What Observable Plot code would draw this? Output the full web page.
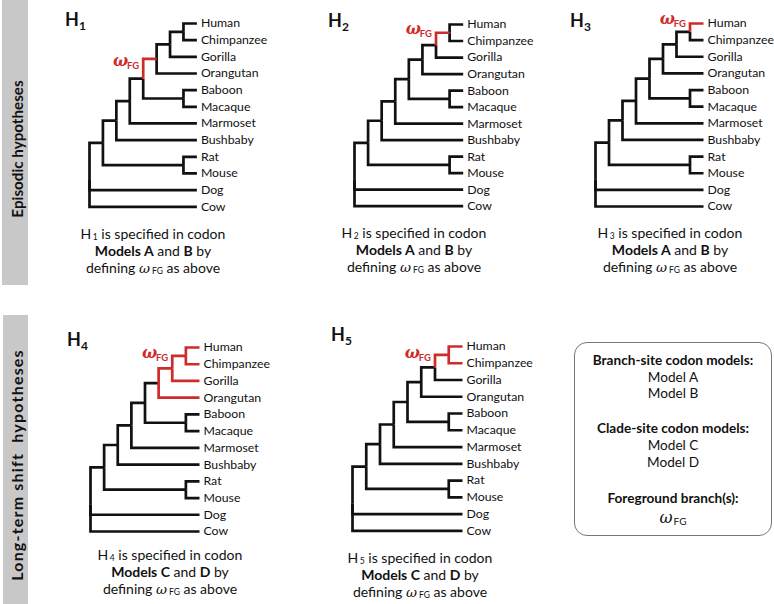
<!DOCTYPE html>
<html><head><meta charset="utf-8">
<script src="https://cdn.jsdelivr.net/npm/d3@7"></script>
<script src="https://cdn.jsdelivr.net/npm/@observablehq/plot@0.6"></script>
<style>
body{margin:0;background:#fff;}
#fig{position:relative;width:774px;height:604px;font-family:Lato,"Open Sans",sans-serif;color:#111;overflow:hidden;background:#fff}
.bar{position:absolute;background:#c8c8c8}
.bar span{position:absolute;white-space:pre;font-weight:bold;line-height:1.2;transform:translate(-50%,-50%) rotate(-90deg);color:#111}
.title{position:absolute;font-weight:bold;font-size:18px;line-height:21.6px;white-space:nowrap}
.title sub{font-size:12px;vertical-align:baseline;position:relative;top:4px;line-height:0}
.cap{position:absolute;text-align:center;font-size:14px;line-height:17px;white-space:nowrap;transform:translateX(-50%)}
.cap sub{font-size:8.5px;vertical-align:baseline;position:relative;top:1px;line-height:0;padding-left:1.5px}
.cap i{font-family:"DejaVu Serif",serif;font-size:13.5px;padding-right:0.5px}
.box{position:absolute;border:1.2px solid #777;border-radius:13px;box-sizing:border-box}
.bl{position:absolute;white-space:nowrap;font-size:13.6px;line-height:16.3px;transform:translateX(-50%)}
.bl sub{font-size:10px;vertical-align:baseline;position:relative;top:2px;line-height:0;padding-left:1px}
svg{position:absolute}
</style></head>
<body><div id="fig"></div>
<script>
// ---------- data ----------
const species = ["Human","Chimpanzee","Gorilla","Orangutan","Baboon","Macaque","Marmoset","Bushbaby","Rat","Mouse","Dog","Cow"];
// topology (nested lists, leaves in the order above)
const tree = [[[[[[[["Human","Chimpanzee"],"Gorilla"],"Orangutan"],["Baboon","Macaque"]],"Marmoset"],"Bushbaby"],["Rat","Mouse"]],"Dog","Cow"];
const hypNames = ["H1","H2","H3","H4","H5"];
const hypSub = ["1","2","3","4","5"];
const hypModels = [["A","B"],["A","B"],["A","B"],["C","D"],["C","D"]];
// foreground (ωFG) branches of each hypothesis: the clade each branch leads to
const foreground = [
  ["Human|Chimpanzee|Gorilla|Orangutan"],
  ["Human|Chimpanzee"],
  ["Human"],
  ["Human|Chimpanzee|Gorilla","Orangutan","Human|Chimpanzee","Gorilla","Human","Chimpanzee"],
  ["Human|Chimpanzee","Human","Chimpanzee"]
];
// branch next to which the ωFG label sits
const omegaBranch = ["Human|Chimpanzee|Gorilla|Orangutan","Human|Chimpanzee","Human","Human|Chimpanzee","Human|Chimpanzee"];
const rowLabels = ["Episodic hypotheses","Long-term shift  hypotheses"];
const legendHeads = ["Branch-site codon models:","Clade-site codon models:","Foreground branch(s):"];
const legendItems = [["Model A","Model B"],["Model C","Model D"]];

// ---------- layout (pixels) ----------
const RED = "#cf2b2b";
const panels = [
  {rootX:89.3, leafX:196.7, topY:22.7, botY:206,   titleX:65,  titleB:27,  capX:153, capB:239, omDy:2},
  {rootX:354,  leafX:462.7, topY:24,   botY:205.7, titleX:328, titleB:28,  capX:414, capB:238, omDy:-4},
  {rootX:595,  leafX:703,   topY:22.7, botY:205.7, titleX:570, titleB:28,  capX:670, capB:238, omDy:-4.5},
  {rootX:90,   leafX:199,   topY:346.7,botY:530.7, titleX:67,  titleB:347, capX:170, capB:560, omDy:-3},
  {rootX:352.3,leafX:462.3, topY:345.7,botY:530,   titleX:331, titleB:342, capX:420, capB:563, omDy:-2}
];

const fig = document.getElementById("fig");

// row bars
const bars = [{l:2,t:0,w:26,h:285,cy:149,fs:15.2,ls:0},{l:3,t:315,w:25,h:289,cy:465,fs:16,ls:1.2}];
bars.forEach((b,i)=>{
  const d = document.createElement("div");
  d.className="bar";
  Object.assign(d.style,{left:b.l+"px",top:b.t+"px",width:b.w+"px",height:b.h+"px"});
  const s = document.createElement("span");
  s.textContent = rowLabels[i];
  s.style.fontSize = b.fs+"px"; s.style.letterSpacing = b.ls+"px";
  s.style.left = (16.8-b.l)+"px"; s.style.top = (b.cy-b.t)+"px";
  d.appendChild(s); fig.appendChild(d);
});

// tree layout
const root = d3.hierarchy(tree, d => Array.isArray(d) ? d : null);
let li = 0;
root.eachAfter(n => {
  n.py = n.children ? d3.mean(n.children, c => c.py) : li++;
  n.px = root.height - n.height;
  n.key = n.leaves().map(l => l.data).join("|");
});
const leafNodes = root.leaves().map(n => ({x:n.px, y:n.py, name:n.data}));

hypNames.forEach((h,k)=>{
  const P = panels[k];
  const fg = new Set(foreground[k]);
  const edges = root.descendants().filter(n=>n.parent).map(n=>({
    x1:n.parent.px, y1:n.parent.py, x2:n.px, y2:n.py, fg:fg.has(n.key), key:n.key}));
  const anchor = edges.filter(e => e.key === omegaBranch[k]);
  const ML=60, MR=75, MT=20, MB=15;
  const left = P.rootX-ML, top = P.topY-MT;
  const W = (P.leafX-left)+MR, H = (P.botY-top)+MB;
  const linkOpts = {x1:"x1",y1:"y1",x2:"x2",y2:"y2",curve:"step-before",strokeWidth:2.7,strokeLinejoin:"miter",strokeMiterlimit:10,strokeLinecap:"butt"};
  const svg = Plot.plot({
    width:W, height:H, marginLeft:ML, marginRight:MR, marginTop:MT, marginBottom:MB,
    x:{domain:[0,root.height], axis:null},
    y:{domain:[0,species.length-1], reverse:true, axis:null},
    style:{background:"transparent", overflow:"visible", fontFamily:"Lato, sans-serif", color:"#111"},
    marks:[
      Plot.link(edges.filter(e=>!e.fg), {...linkOpts, stroke:"#111"}),
      Plot.link(edges.filter(e=>e.fg), {...linkOpts, stroke:RED}),
      Plot.text(leafNodes, {x:"x", y:"y", text:"name", textAnchor:"start", dx:4, fontSize:12.3, fill:"#111"}),
      Plot.text(anchor, {x:"x1", y:"y2", text:()=>"ω", textAnchor:"end", dx:-15, dy:P.omDy, fill:RED, fontSize:16, fontWeight:"bold", fontStyle:"italic", fontFamily:"DejaVu Serif, serif"}),
      Plot.text(anchor, {x:"x1", y:"y2", text:()=>"FG", textAnchor:"end", dx:-4, dy:P.omDy+5, fill:RED, fontSize:9.5, fontWeight:"bold"})
    ]
  });
  svg.style.left = left+"px"; svg.style.top = top+"px";
  fig.appendChild(svg);

  const t = document.createElement("div");
  t.className="title";
  t.innerHTML = "H<sub>"+hypSub[k]+"</sub>";
  t.style.left = P.titleX+"px"; t.style.top = (P.titleB-17.8)+"px";
  fig.appendChild(t);

  const c = document.createElement("div");
  c.className="cap";
  c.innerHTML = "H<sub>"+hypSub[k]+"</sub> is specified in codon<br><b>Models "+hypModels[k][0]+"</b> and <b>"+hypModels[k][1]+"</b> by<br>defining <i>ω</i><sub>FG</sub> as above";
  c.style.left = P.capX+"px"; c.style.top = (P.capB-14)+"px";
  fig.appendChild(c);
});

// legend box
const box = document.createElement("div");
box.className="box";
Object.assign(box.style,{left:"574px",top:"342px",width:"198px",height:"194px"});
fig.appendChild(box);
const lines = [
  {html:"<b>"+legendHeads[0]+"</b>", b:365},
  {html:legendItems[0][0], b:382},
  {html:legendItems[0][1], b:398},
  {html:"<b>"+legendHeads[1]+"</b>", b:433},
  {html:legendItems[1][0], b:450},
  {html:legendItems[1][1], b:467},
  {html:"<b>"+legendHeads[2]+"</b>", b:503},
  {html:"<i style=\"font-family:'DejaVu Serif',serif;font-size:16px\">ω</i><sub>FG</sub>", b:523}
];
lines.forEach(L=>{
  const d = document.createElement("div");
  d.className="bl"; d.innerHTML=L.html;
  d.style.left="673px"; d.style.top=(L.b-13.4)+"px";
  fig.appendChild(d);
});
</script>
</body></html>
